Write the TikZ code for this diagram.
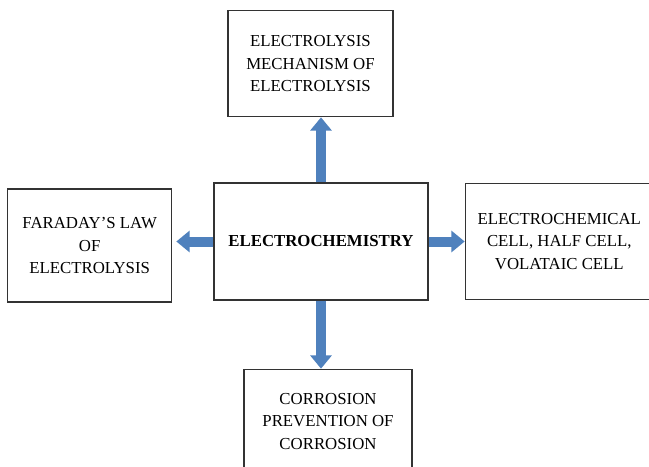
\documentclass[tikz,border=0pt]{standalone}
\usepackage{fontspec}
\setmainfont{Liberation Serif}
\usetikzlibrary{positioning,arrows.meta}
\definecolor{flowblue}{HTML}{4F81BD}
\definecolor{boxline}{HTML}{333333}
\tikzset{
  box/.style={draw=boxline, line width=1pt, rectangle, align=center, fill=white,
    font=\fontsize{12.6}{17}\selectfont},
  flow/.style={flowblue, line width=7.5pt, -{Triangle[length=10pt,width=15.75pt]}}
}
\begin{document}
\begin{tikzpicture}[x=0.75pt, y=-0.75pt]
    \clip (0,0) rectangle (649,467);
    \fill[white] (0,0) rectangle (649,467);

    \node[box, minimum width=160.5pt, minimum height=87.75pt, font=\fontsize{12.6}{17}\selectfont\bfseries] (main) at (321,241.5) {ELECTROCHEMISTRY};
    \node[box, above=48.75pt of main, xshift=-7.9pt, minimum width=123.75pt, minimum height=79.5pt] (electrolysis) {ELECTROLYSIS\\MECHANISM OF\\ELECTROLYSIS};
    \node[box, left=30.75pt of main, yshift=-3pt, minimum width=123pt, minimum height=84.75pt] (faraday) {FARADAY’S LAW\\OF\\ELECTROLYSIS};
    \node[box, right=27pt of main, minimum width=141pt, minimum height=87pt] (cell) {ELECTROCHEMICAL\\CELL, HALF CELL,\\VOLATAIC CELL};
    \node[box, below=51pt of main, xshift=5.25pt, minimum width=126pt, minimum height=78pt] (corrosion) {CORROSION\\PREVENTION OF\\CORROSION};

    \draw[flow] (main.north) -- (main.north |- electrolysis.south);
    \draw[flow, shorten >=3pt] (main.west) -- (main.west -| faraday.east);
    \draw[flow] (main.east) -- (main.east -| cell.west);
    \draw[flow] (main.south) -- (main.south |- corrosion.north);
\end{tikzpicture}
\end{document}
